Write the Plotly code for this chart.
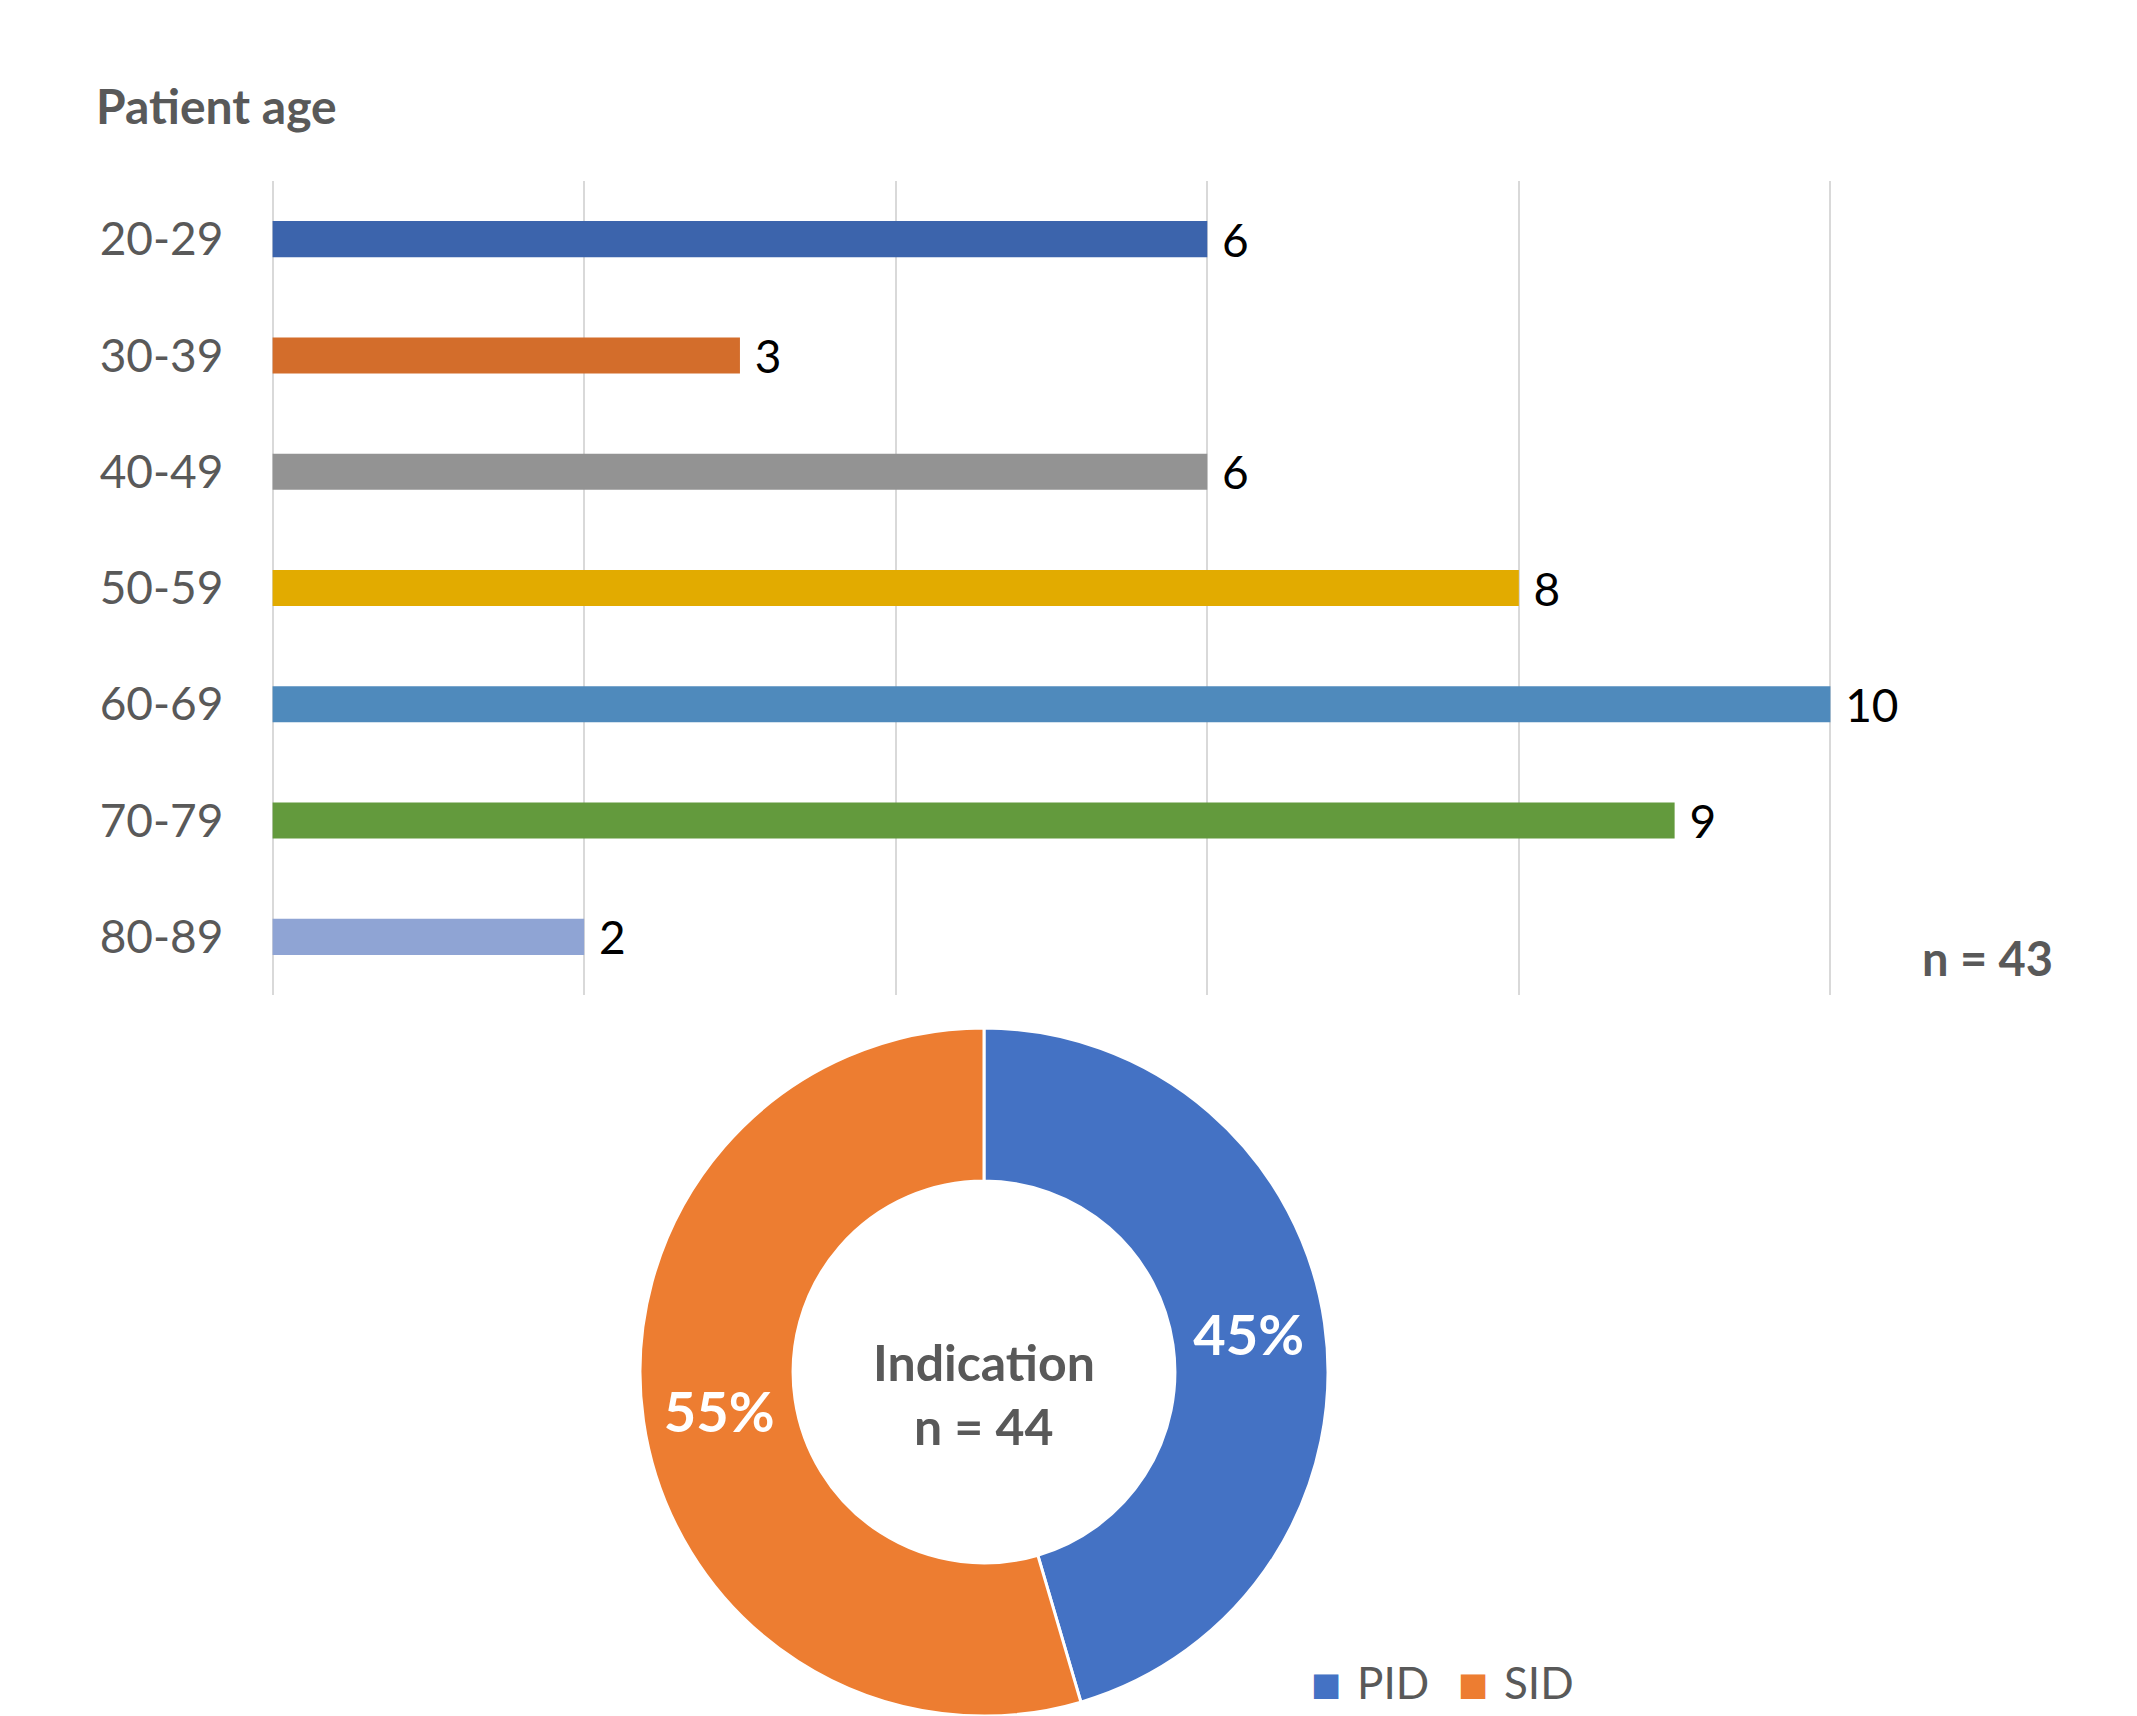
import plotly.graph_objects as go

W, H = 2137, 1716

# ---- data ----
age_groups = ["20-29", "30-39", "40-49", "50-59", "60-69", "70-79", "80-89"]
patient_counts = [6, 3, 6, 8, 10, 9, 2]
bar_colors = ["#3C64AC", "#D36D2B", "#939393", "#E2AB00", "#4F8ABC", "#639A3D", "#8FA4D4"]

indication_labels = ["PID", "SID"]
indication_counts = [20, 24]
indication_colors = ["#4472C4", "#ED7D31"]

FONT = "Lato, 'Open Sans', sans-serif"
GRAY = "#595959"

def px_x(px):
    return px / W

def px_y(py):
    return 1 - py / H

fig = go.Figure()

fig.add_trace(go.Bar(
    x=patient_counts,
    y=age_groups,
    orientation="h",
    marker=dict(color=bar_colors, line=dict(width=0)),
    text=patient_counts,
    texttemplate=" %{x}",
    textposition="outside",
    textfont=dict(family=FONT, size=46, color="#000000"),
    constraintext="none",
    cliponaxis=False,
    showlegend=False,
    hoverinfo="skip",
))

fig.add_trace(go.Pie(
    labels=indication_labels,
    values=indication_counts,
    marker=dict(colors=indication_colors, line=dict(color="#FFFFFF", width=3)),
    hole=0.555,
    sort=False,
    direction="clockwise",
    rotation=0,
    texttemplate="%{percent:.0%}",
    textposition="inside",
    insidetextorientation="horizontal",
    textfont=dict(family=FONT, size=56, color="#FFFFFF", weight="bold"),
    domain=dict(x=[px_x(640), px_x(1328)], y=[0, 688 / H]),
    showlegend=False,
    hoverinfo="skip",
))

annotations = [
    dict(text="<b>Patient age</b>", x=px_x(94), y=px_y(106), xanchor="left", yanchor="middle",
         font=dict(family=FONT, size=48, color=GRAY)),
    dict(text="<b>n = 43</b>", x=px_x(2055), y=px_y(958), xanchor="right", yanchor="middle",
         font=dict(family=FONT, size=47, color=GRAY)),
    dict(text="<b>Indication</b>", x=px_x(984), y=px_y(1362), xanchor="center", yanchor="middle",
         font=dict(family=FONT, size=50, color=GRAY)),
    dict(text="<b>n = 44</b>", x=px_x(984), y=px_y(1426), xanchor="center", yanchor="middle",
         font=dict(family=FONT, size=50, color=GRAY)),
]
# legend (drawn as text)
leg_items = [(indication_labels[0], indication_colors[0], 1313), (indication_labels[1], indication_colors[1], 1460)]
for lab, col, xl in leg_items:
    annotations.append(dict(
        text=f'<span style="color:{col}">■</span>', x=px_x(xl - 4), y=px_y(1684),
        xanchor="left", yanchor="middle", font=dict(family="DejaVu Sans", size=32, color=col)))
    annotations.append(dict(
        text=lab, x=px_x(xl + 42), y=px_y(1682), xanchor="left", yanchor="middle",
        font=dict(family=FONT, size=44, color=GRAY)))

for a in annotations:
    a.update(xref="paper", yref="paper", showarrow=False)

PAD = 0.02
ppu = (1830.4 - 272.6) / 10.0

fig.update_layout(
    width=W, height=H,
    margin=dict(l=0, r=0, t=0, b=0),
    paper_bgcolor="#FFFFFF",
    plot_bgcolor="rgba(0,0,0,0)",
    bargap=0.69,
    annotations=annotations,
    xaxis=dict(
        domain=[px_x(272.6 - PAD * ppu), px_x(1830.4 + PAD * ppu)],
        range=[-PAD, 10 + PAD], dtick=2, tick0=0,
        showgrid=True, gridcolor="#D9D9D9", gridwidth=2,
        zeroline=False, showline=False, showticklabels=False, ticks="",
        fixedrange=True,
    ),
    yaxis=dict(
        domain=[px_y(995), px_y(181)],
        categoryorder="array", categoryarray=age_groups,
        range=[6.5, -0.5],
        showgrid=False, zeroline=False, showline=False, ticks="",
        ticklabelstandoff=45,
        tickfont=dict(family=FONT, size=46, color=GRAY),
        fixedrange=True,
    ),
)

fig.write_html("out.html")
